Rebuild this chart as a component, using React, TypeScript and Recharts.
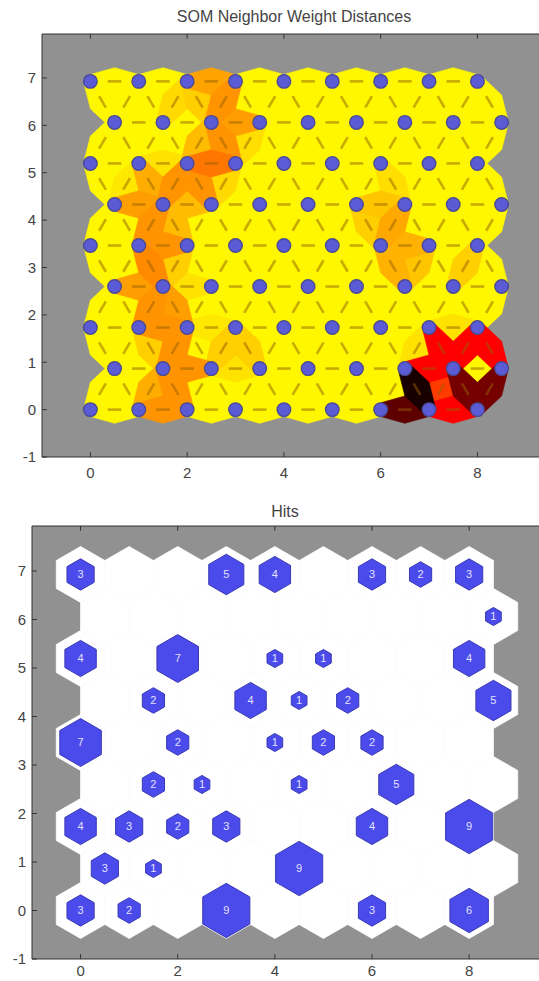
import React from "react";
import {
    ScatterChart,
    Scatter,
    XAxis,
    YAxis,
    CartesianGrid,
    ReferenceLine,
} from "recharts";

// 9 x 9 hexagonal SOM grid (MATLAB hextop layout)
const COLS = 9;
const ROW_STEP = Math.sqrt(0.75);
const TOP_Y = 8 * ROW_STEP + 1;

const xTicks = [0, 2, 4, 6, 8];
const yTicks = [-1, 0, 1, 2, 3, 4, 5, 6, 7];

// neighbour weight distances (0 = yellow, 0.5 = red, 1 = black)
// horizontal links, row 0 (bottom) .. row 8 (top)
const horizLinks = [
    [0, 0.2, 0, 0, 0, 0, 0.85, 0.5],
    [0, 0.2, 0.04, 0, 0, 0, 0.5, 0],
    [0, 0.2, 0.03, 0, 0, 0, 0, 0.04],
    [0.18, 0.04, 0, 0, 0, 0, 0, 0],
    [0, 0.2, 0, 0, 0, 0, 0.14, 0],
    [0.18, 0.12, 0, 0, 0, 0.1, 0, 0],
    [0, 0.04, 0.26, 0, 0, 0, 0, 0],
    [0, 0, 0.18, 0, 0, 0, 0, 0],
    [0, 0, 0.17, 0, 0, 0, 0, 0],
];

// diagonal links between row r and r+1, midpoints at x = 0.25, 0.75 ... 8.25
const diagLinks = [
    [0, 0, 0.15, 0.2, 0, 0, 0, 0, 0, 0, 0, 0, 0, 1.0, 0.38, 0.8, 0.8],
    [0, 0, 0.08, 0.2, 0, 0.08, 0.08, 0, 0, 0, 0, 0, 0, 0.04, 0.5, 0.5, 0.5],
    [0, 0, 0.2, 0.18, 0, 0, 0, 0, 0, 0, 0, 0, 0, 0, 0, 0, 0],
    [0, 0, 0.22, 0.08, 0, 0, 0, 0, 0, 0, 0, 0, 0.14, 0.1, 0, 0.08, 0],
    [0, 0, 0.2, 0.12, 0, 0, 0, 0, 0, 0, 0, 0.08, 0.16, 0, 0, 0, 0],
    [0, 0.03, 0.15, 0.2, 0.2, 0.06, 0, 0, 0, 0, 0, 0, 0.05, 0, 0, 0, 0],
    [0, 0, 0, 0, 0.12, 0.2, 0.05, 0, 0, 0, 0, 0, 0, 0, 0, 0, 0],
    [0, 0, 0, 0.06, 0.08, 0.2, 0, 0, 0, 0, 0, 0, 0, 0, 0, 0, 0],
];

// hits per neuron, row 0 (bottom) .. row 8 (top)
const hitRows = [
    [3, 2, 0, 9, 0, 0, 3, 0, 6],
    [3, 1, 0, 0, 9, 0, 0, 0, 0],
    [4, 3, 2, 3, 0, 0, 4, 0, 9],
    [0, 2, 1, 0, 1, 0, 5, 0, 0],
    [7, 0, 2, 0, 1, 2, 2, 0, 0],
    [0, 2, 0, 4, 1, 2, 0, 0, 5],
    [4, 0, 7, 0, 1, 1, 0, 0, 4],
    [0, 0, 0, 0, 0, 0, 0, 0, 1],
    [3, 0, 0, 5, 4, 0, 3, 2, 3],
];
const maxHits = 9;

const FONT = "'Liberation Sans', Arial, sans-serif";
const GRAY = "#919191";

// layout of the two plots
const TOP = { width: 550, height: 489, left: 2, yw: 40, top: 34, bottom: 2, xh: 30 };
const BOT = { width: 542, height: 490, left: 2, yw: 30, top: 36, bottom: 1, xh: 20 };
const kx = (c: any) => (c.width - c.left - c.yw) / 10.5;
const ky = (c: any) => (c.height - c.top - c.bottom - c.xh) / (TOP_Y + 1);

const pos = (i: number, r: number) => ({ x: i + (r % 2 ? 0.5 : 0), y: r * ROW_STEP });

const neurons: any[] = [];
for (let r = 0; r < hitRows.length; r++) {
    for (let i = 0; i < COLS; i++) {
        neurons.push({ ...pos(i, r), hits: hitRows[r][i] });
    }
}

const links: any[] = [];
horizLinks.forEach((row, r) =>
    row.forEach((d, i) => {
        const p = pos(i, r);
        links.push({ x: p.x + 0.5, y: p.y, angle: 0, d });
    })
);
diagLinks.forEach((row, r) =>
    row.forEach((d, k) => {
        const left = 0.5 * k;
        const leftInt = Math.abs(left - Math.round(left)) < 1e-6;
        const leftLower = r % 2 === 0 ? leftInt : !leftInt;
        links.push({ x: left + 0.25, y: (r + 0.5) * ROW_STEP, angle: leftLower ? 60 : 120, d });
    })
);
const patches = [...links].sort((a, b) => a.d - b.d);

const distColor = (d: number) => {
    if (d <= 0.5) return `rgb(255,${Math.round(247 * (1 - 2 * d))},0)`;
    return `rgb(${Math.round(255 * (1 - (d - 0.5) * 1.8))},0,0)`;
};

const LINK_HEX = [
    [-0.5, 0.1443], [0, 0.2887], [0.5, 0.1443],
    [0.5, -0.1443], [0, -0.2887], [-0.5, -0.1443],
];
const cellHex = (R: number) => [
    [0, R], [R * 0.866, R / 2], [R * 0.866, -R / 2],
    [0, -R], [-R * 0.866, -R / 2], [-R * 0.866, R / 2],
];

const polyPts = (cx: number, cy: number, pts: number[][], angle: number, sx: number, sy: number) => {
    const a = (angle * Math.PI) / 180;
    const c = Math.cos(a), s = Math.sin(a);
    return pts.map(([u, v]) => `${cx + (u * c - v * s) * sx},${cy - (u * s + v * c) * sy}`).join(" ");
};

const PatchShape = (props: any) => {
    const { cx, cy, payload } = props;
    const col = distColor(payload.d);
    return (
        <polygon
            points={polyPts(cx, cy, LINK_HEX, payload.angle, kx(TOP), ky(TOP))}
            fill={col}
            stroke={col}
            strokeWidth={0.6}
        />
    );
};

const DashShape = (props: any) => {
    const { cx, cy, payload } = props;
    const a = (payload.angle * Math.PI) / 180;
    const dx = 0.14 * Math.cos(a) * kx(TOP);
    const dy = 0.14 * Math.sin(a) * ky(TOP);
    return (
        <line x1={cx - dx} y1={cy + dy} x2={cx + dx} y2={cy - dy}
            stroke="rgba(150,95,0,0.5)" strokeWidth={2.6} />
    );
};

const NeuronDot = (props: any) => {
    const { cx, cy } = props;
    return <circle cx={cx} cy={cy} r={0.14 * kx(TOP)} fill="#5b5bd6" stroke="#4a4a96" strokeWidth={1.4} />;
};

const WhiteCell = (props: any) => {
    const { cx, cy } = props;
    return (
        <polygon points={polyPts(cx, cy, cellHex(0.577), 0, kx(BOT), ky(BOT))}
            fill="#ffffff" stroke="#ffffff" strokeWidth={0.8} />
    );
};

const HitCell = (props: any) => {
    const { cx, cy, payload } = props;
    if (!payload.hits) return <g />;
    const R = 0.577 * 0.97 * Math.sqrt(payload.hits / maxHits);
    return (
        <g>
            <polygon points={polyPts(cx, cy, cellHex(R), 0, kx(BOT), ky(BOT))}
                fill="#4b4bec" stroke="#3a3ab4" strokeWidth={1} />
            <text x={cx} y={cy} dy="0.36em" textAnchor="middle" fontSize={11}
                fontFamily={FONT} fill="#e2e2ff">{payload.hits}</text>
        </g>
    );
};

const tickProps = { fill: "#444", fontSize: 15, fontFamily: FONT };

const frameTicks = (len: number) => [
    ...xTicks.map((t) => (
        <ReferenceLine key={"b" + t} segment={[{ x: t, y: -1 }, { x: t, y: -1 + len }]} stroke="#333" />
    )),
    ...xTicks.map((t) => (
        <ReferenceLine key={"t" + t} segment={[{ x: t, y: TOP_Y }, { x: t, y: TOP_Y - len }]} stroke="#333" />
    )),
    ...yTicks.map((t) => (
        <ReferenceLine key={"l" + t} segment={[{ x: -1, y: t }, { x: -1 + len, y: t }]} stroke="#333" />
    )),
];

export default function App() {
    return (
        <div style={{ position: "absolute", left: 0, top: 0, width: 539, height: 981, overflow: "hidden", background: "#fff", fontFamily: FONT }}>
            <div style={{ position: "absolute", left: 0, top: 8, width: 588, textAlign: "center", fontSize: 16, lineHeight: "18px", color: "#444" }}>
                SOM Neighbor Weight Distances
            </div>
            <div style={{ position: "absolute", left: 0, top: 0 }}>
                <ScatterChart width={TOP.width} height={TOP.height}
                    margin={{ top: TOP.top, right: 0, bottom: TOP.bottom, left: TOP.left }}>
                    <CartesianGrid fill={GRAY} horizontal={false} vertical={false} />
                    <XAxis type="number" dataKey="x" domain={[-1, 9.5]} ticks={xTicks} allowDataOverflow
                        height={TOP.xh} interval={0} axisLine={{ stroke: "#333" }} tickLine={false}
                        tickSize={4} tickMargin={6} tick={tickProps} />
                    <YAxis type="number" dataKey="y" domain={[-1, TOP_Y]} ticks={yTicks} allowDataOverflow
                        width={TOP.yw} interval={0} axisLine={{ stroke: "#333" }} tickLine={false}
                        tickSize={3} tickMargin={3} tick={tickProps} />
                    <Scatter data={patches} shape={PatchShape} isAnimationActive={false} />
                    <Scatter data={links} shape={DashShape} isAnimationActive={false} />
                    <Scatter data={neurons} shape={NeuronDot} isAnimationActive={false} />
                    <ReferenceLine y={TOP_Y} stroke="#333" />
                    {frameTicks(0.1)}
                </ScatterChart>
            </div>
            <div style={{ position: "absolute", left: 0, top: 503, width: 570, textAlign: "center", fontSize: 16, lineHeight: "18px", color: "#444" }}>
                Hits
            </div>
            <div style={{ position: "absolute", left: 0, top: 490 }}>
                <ScatterChart width={BOT.width} height={BOT.height}
                    margin={{ top: BOT.top, right: 0, bottom: BOT.bottom, left: BOT.left }}>
                    <CartesianGrid fill={GRAY} horizontal={false} vertical={false} />
                    <XAxis type="number" dataKey="x" domain={[-1, 9.5]} ticks={xTicks} allowDataOverflow
                        height={BOT.xh} interval={0} axisLine={{ stroke: "#333" }} tickLine={false}
                        tickSize={4} tickMargin={2} tick={tickProps} />
                    <YAxis type="number" dataKey="y" domain={[-1, TOP_Y]} ticks={yTicks} allowDataOverflow
                        width={BOT.yw} interval={0} axisLine={{ stroke: "#333" }} tickLine={false}
                        tickSize={3} tickMargin={3} tick={tickProps} />
                    <Scatter data={neurons} shape={WhiteCell} isAnimationActive={false} />
                    <Scatter data={neurons} shape={HitCell} isAnimationActive={false} />
                    <ReferenceLine y={TOP_Y} stroke="#333" />
                    {frameTicks(0.1)}
                </ScatterChart>
            </div>
        </div>
    );
}
